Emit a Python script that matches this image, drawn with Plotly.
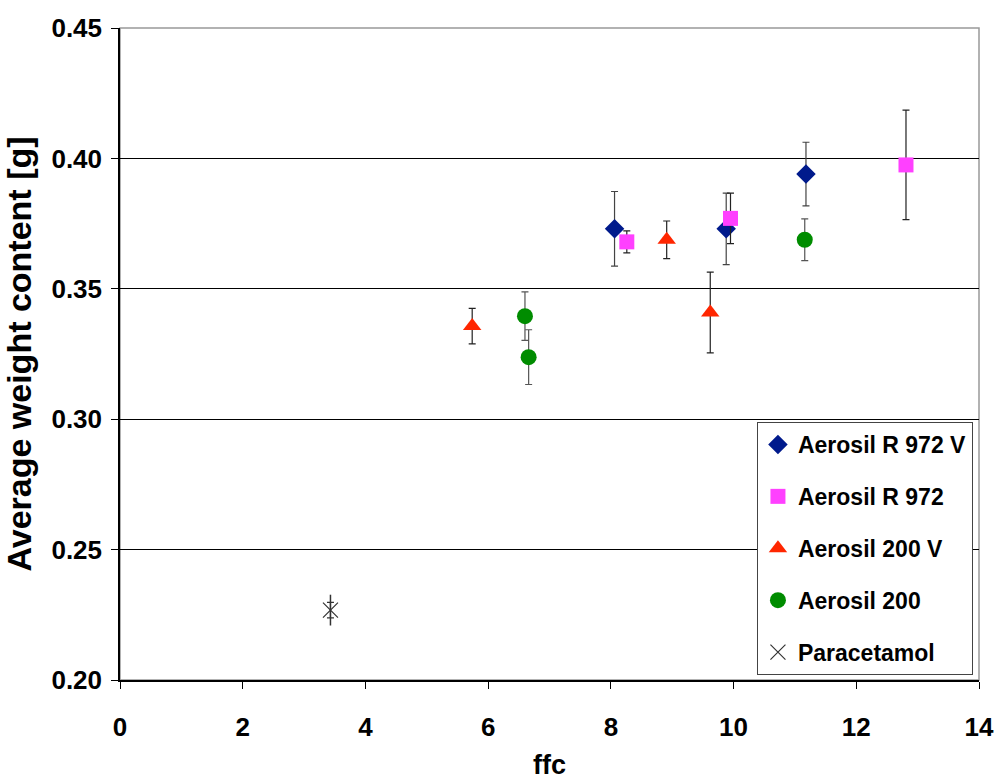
import plotly.graph_objects as go

# ffc values and average weight content [g] with standard deviations
r972v_x = [8.06, 9.88, 11.18]
r972v_y = [0.373, 0.373, 0.394]
r972v_err = [0.0143, 0.0137, 0.0122]

r972_x = [8.26, 9.95, 12.81]
r972_y = [0.368, 0.377, 0.3975]
r972_err = [0.0042, 0.0097, 0.021]

a200v_x = [5.74, 8.91, 9.62]
a200v_y = [0.3357, 0.3688, 0.3409]
a200v_err = [0.0068, 0.0072, 0.0155]

a200_x = [6.60, 6.66, 11.16]
a200_y = [0.3395, 0.3238, 0.3688]
a200_err = [0.0093, 0.0105, 0.008]

para_x = [3.43]
para_y = [0.2268]
para_err = [0.003]

x_ticks = [0, 2, 4, 6, 8, 10, 12, 14]
y_ticks = [0.20, 0.25, 0.30, 0.35, 0.40, 0.45]

NARROW = "Liberation Sans Narrow, Arial Narrow, Liberation Sans, Arial"
SANS = "Liberation Sans, Arial, sans-serif"


def err(vals, color="#222"):
    return dict(type="data", array=vals, visible=True, color=color,
                thickness=1.2, width=3.5)


fig = go.Figure()

fig.add_trace(go.Scatter(
    x=r972v_x, y=r972v_y, mode="markers", name="Aerosil R 972 V",
    legendgroup="a", error_y=err(r972v_err, "#444"),
    marker=dict(symbol="diamond", size=15, color="#001a8c")))
fig.add_trace(go.Scatter(
    x=r972_x, y=r972_y, mode="markers", name="Aerosil R 972",
    legendgroup="b", error_y=err(r972_err),
    marker=dict(symbol="square", size=15, color="#ff40ff")))
fig.add_trace(go.Scatter(
    x=a200v_x, y=a200v_y, mode="markers", name="Aerosil 200 V",
    legendgroup="c", error_y=err(a200v_err),
    marker=dict(symbol="triangle-up", size=16, color="#ff2600")))
fig.add_trace(go.Scatter(
    x=a200_x, y=a200_y, mode="markers", name="Aerosil 200",
    legendgroup="d", error_y=err(a200_err, "#555"),
    marker=dict(symbol="circle", size=16, color="#008c00")))
fig.add_trace(go.Scatter(
    x=para_x, y=para_y, mode="markers", name="Paracetamol",
    legendgroup="e", error_y=err(para_err, "#333"),
    marker=dict(symbol="x-thin-open", size=15, color="#333",
                line=dict(color="#333", width=1.2))))
fig.add_trace(go.Scatter(
    x=para_x, y=para_y, mode="markers", showlegend=False,
    legendgroup="e", hoverinfo="skip",
    marker=dict(symbol="line-ns-open", size=22, color="#333",
                line=dict(color="#333", width=1.5))))

fig.update_layout(
    width=994, height=782,
    margin=dict(l=120, r=15, t=28, b=102, autoexpand=False),
    paper_bgcolor="white", plot_bgcolor="white",
    showlegend=True,
    legend=dict(
        x=0.7415, y=0.3957, xanchor="left", yanchor="top",
        bgcolor="white", bordercolor="#444", borderwidth=1,
        font=dict(family=NARROW, size=23, color="black", weight="bold"),
        tracegroupgap=19, itemwidth=30,
    ),
    shapes=[dict(type="rect", xref="paper", yref="paper",
                 x0=0, x1=1, y0=0, y1=1,
                 line=dict(color="#999", width=1.5), layer="below")],
)

fig.update_xaxes(
    range=[0, 14], tickvals=x_ticks, ticktext=[str(v) for v in x_ticks],
    showgrid=False, zeroline=False,
    showline=True, linecolor="black", linewidth=1.5,
    ticks="outside", ticklen=7, tickcolor="black",
    ticklabelstandoff=16,
    tickfont=dict(family=NARROW, size=26, color="black", weight="bold"),
    title=dict(text="ffc", standoff=14,
               font=dict(family=NARROW, size=27, color="black", weight="bold")),
)
fig.update_yaxes(
    range=[0.20, 0.45], tickvals=y_ticks,
    ticktext=[f"{v:.2f}" for v in y_ticks],
    showgrid=True, gridcolor="black", gridwidth=1,
    zeroline=False,
    showline=True, linecolor="black", linewidth=1.5,
    ticks="outside", ticklen=7, tickcolor="black",
    ticklabelstandoff=4,
    tickfont=dict(family=SANS, size=26, color="black", weight="bold"),
    title=dict(text="Average weight content [g]", standoff=12,
               font=dict(family=SANS, size=34, color="black", weight="bold")),
)

fig.write_html("out.html")
